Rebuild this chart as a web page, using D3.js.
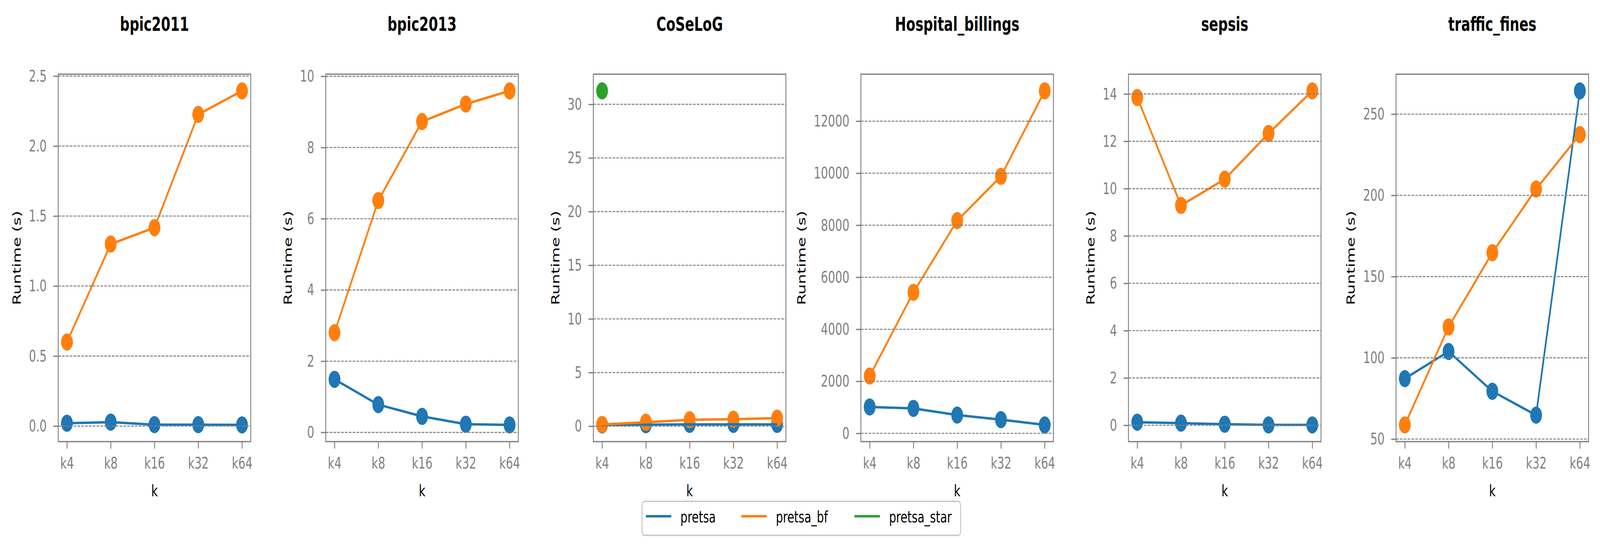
<!DOCTYPE html>
<html>
<head>
<meta charset="utf-8">
<script src="https://cdn.jsdelivr.net/npm/d3@7"></script>
<style>
  html, body { margin: 0; padding: 0; background: #fff; overflow: hidden; }
  svg { display: block; width: 100vw; height: 100vh; }
  text { font-family: "DejaVu Sans", sans-serif; }
</style>
</head>
<body>
<div id="chart"></div>
<script>
// Data
const datasets = ["bpic2011", "bpic2013", "CoSeLoG", "Hospital_billings", "sepsis", "traffic_fines"];
const categories = ["k4", "k8", "k16", "k32", "k64"];
const seriesNames = ["pretsa", "pretsa_bf", "pretsa_star"];

// runtime in seconds, one row per dataset
const pretsa = [
  [0.02, 0.028, 0.01, 0.01, 0.008],
  [1.49, 0.78, 0.45, 0.23, 0.21],
  [0.12, 0.14, 0.17, 0.17, 0.17],
  [1014, 959, 703, 527, 324],
  [0.13, 0.09, 0.045, 0.015, 0.015],
  [87.2, 103.9, 79.4, 64.7, 264.3]
];
const pretsaBf = [
  [0.60, 1.30, 1.417, 2.226, 2.394],
  [2.80, 6.51, 8.73, 9.22, 9.59],
  [0.16, 0.37, 0.60, 0.65, 0.75],
  [2203, 5419, 8176, 9878, 13162],
  [13.85, 9.29, 10.40, 12.33, 14.13],
  [58.7, 119.0, 164.7, 203.9, 237.4]
];
const pretsaStar = [
  [null, null, null, null, null],
  [null, null, null, null, null],
  [31.25, null, null, null, null],
  [null, null, null, null, null],
  [null, null, null, null, null],
  [null, null, null, null, null]
];

const yTickLabels = [
  ["0.0", "0.5", "1.0", "1.5", "2.0", "2.5"],
  ["0", "2", "4", "6", "8", "10"],
  ["0", "5", "10", "15", "20", "25", "30"],
  ["0", "2000", "4000", "6000", "8000", "10000", "12000"],
  ["0", "2", "4", "6", "8", "10", "12", "14"],
  ["50", "100", "150", "200", "250"]
];

// Layout (in the 5966x1406 coordinate space of the original figure)
const W = 5966, H = 1406;
const panelLeft0 = 217, panelStep = 997.7, panelW = 718;
const panelTop = 190, panelH = 941;
const grey = "#808080";
const colors = ["#1f77b4", "#ff7f0e", "#2ca02c"];
const fontSize = 41.7;
const allSeries = [pretsa, pretsaBf, pretsaStar];

// the viewBox keeps the whole figure inside whatever window we get
const svg = d3.select("#chart").append("svg")
  .attr("viewBox", `0 0 ${W} ${H}`)
  .attr("preserveAspectRatio", "none")
  .style("background", "#fff");

datasets.forEach((name, i) => {
  const g = svg.append("g")
    .attr("transform", `translate(${panelLeft0 + i * panelStep},${panelTop})`);

  const x = d3.scalePoint()
    .domain(categories)
    .range([0, panelW])
    .padding(0.2);

  // matplotlib-like autoscale with 5% margins
  const vals = allSeries.flatMap(s => s[i]).filter(v => v != null);
  const [lo, hi] = d3.extent(vals);
  const pad = (hi - lo) * 0.05;
  const y = d3.scaleLinear()
    .domain([lo - pad, hi + pad])
    .range([panelH, 0]);

  // y axis
  const labels = yTickLabels[i];
  const yAxis = g.append("g")
    .call(d3.axisLeft(y)
      .tickValues(labels.map(Number))
      .tickFormat((d, j) => labels[j])
      .tickSize(18)
      .tickPadding(25))
    .attr("font-size", fontSize)
    .attr("font-family", "DejaVu Sans");
  yAxis.select(".domain").remove();
  yAxis.selectAll("line").attr("stroke", grey).attr("stroke-width", 3.3);
  yAxis.selectAll("text").attr("fill", grey);

  const labelW = d3.max(yAxis.selectAll("text").nodes(), n => n.getBBox().width);

  // x axis
  const xAxis = g.append("g")
    .attr("transform", `translate(0,${panelH})`)
    .call(d3.axisBottom(x).tickSize(18))
    .attr("font-size", fontSize)
    .attr("font-family", "DejaVu Sans");
  xAxis.select(".domain").remove();
  xAxis.selectAll("line").attr("stroke", grey).attr("stroke-width", 3.3);
  xAxis.selectAll("text").attr("fill", grey).attr("y", 69).attr("dy", null);

  // axis labels + title
  g.append("text")
    .attr("transform", `translate(${-(43 + labelW + 31)},${panelH / 2}) rotate(-90)`)
    .attr("text-anchor", "middle")
    .attr("font-size", fontSize)
    .attr("fill", "#000")
    .text("Runtime (s)");

  g.append("text")
    .attr("x", panelW / 2)
    .attr("y", panelH + 140)
    .attr("text-anchor", "middle")
    .attr("font-size", fontSize)
    .attr("fill", "#000")
    .text("k");

  g.append("text")
    .attr("x", panelW / 2)
    .attr("y", 79 - panelTop)
    .attr("text-anchor", "middle")
    .attr("font-size", 50)
    .attr("font-weight", "bold")
    .attr("fill", "#000")
    .text(name);

  // markers first, lines over them (as in the original)
  allSeries.forEach((s, k) => {
    g.append("g")
      .selectAll("circle")
      .data(s[i].map((v, j) => ({cat: categories[j], v})).filter(d => d.v != null))
      .join("circle")
      .attr("cx", d => x(d.cat))
      .attr("cy", d => y(d.v))
      .attr("r", 22)
      .attr("fill", colors[k]);
  });

  const line = d3.line()
    .defined(v => v != null)
    .x((v, j) => x(categories[j]))
    .y(v => y(v));

  allSeries.forEach((s, k) => {
    g.append("path")
      .datum(s[i])
      .attr("d", line)
      .attr("fill", "none")
      .attr("stroke", colors[k])
      .attr("stroke-width", 6.25)
      .attr("stroke-linejoin", "round");
  });

  // dashed grid on top
  g.append("g")
    .selectAll("line")
    .data(labels.map(Number))
    .join("line")
    .attr("x1", 0)
    .attr("x2", panelW)
    .attr("y1", d => y(d))
    .attr("y2", d => y(d))
    .attr("stroke", grey)
    .attr("stroke-width", 2.6)
    .attr("stroke-dasharray", "10,4.3");

  // frame
  g.append("rect")
    .attr("width", panelW)
    .attr("height", panelH)
    .attr("fill", "none")
    .attr("stroke", grey)
    .attr("stroke-width", 3.3);
});

// Legend
const legendBox = {x: 2394, y: 1284, w: 1188, h: 87};
const handleX = [14, 370, 792];
const textX = [143, 499, 921];

const legend = svg.append("g")
  .attr("transform", `translate(${legendBox.x},${legendBox.y})`);

legend.append("rect")
  .attr("width", legendBox.w)
  .attr("height", legendBox.h)
  .attr("rx", 10)
  .attr("fill", "#fff")
  .attr("stroke", "#cccccc")
  .attr("stroke-width", 4);

seriesNames.forEach((s, k) => {
  legend.append("line")
    .attr("x1", handleX[k])
    .attr("x2", handleX[k] + 95)
    .attr("y1", 38)
    .attr("y2", 38)
    .attr("stroke", colors[k])
    .attr("stroke-width", 6.25);
  legend.append("text")
    .attr("x", textX[k])
    .attr("y", 54)
    .attr("font-size", fontSize)
    .attr("fill", "#000")
    .text(s);
});
</script>
</body>
</html>
